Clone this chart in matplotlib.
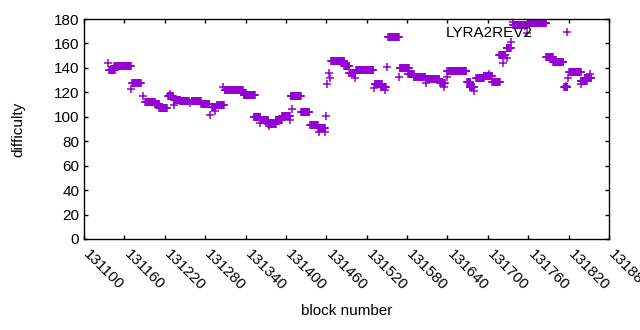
import numpy as np
import matplotlib
matplotlib.use('Agg')
import matplotlib.pyplot as plt
import matplotlib.transforms as mtransforms

# runs of consecutive blocks with the same difficulty: start, end, value
run_start = [131137, 131145, 131172, 131191, 131205, 131212, 131225, 131234, 131243, 131260,
             131274, 131290, 131297, 131309, 131337, 131352, 131362, 131374, 131385, 131394,
             131407, 131423, 131436, 131448, 131467, 131487, 131494, 131504, 131532, 131541,
             131552, 131569, 131582, 131590, 131609, 131629, 131640, 131669, 131673, 131683,
             131694, 131706, 131717, 131728, 131738, 131759, 131787, 131797, 131813, 131821,
             131838, 131844]
run_end = [131146, 131170, 131184, 131205, 131212, 131223, 131232, 131243, 131256, 131274,
           131286, 131295, 131308, 131336, 131354, 131362, 131374, 131385, 131394, 131406,
           131422, 131435, 131447, 131458, 131487, 131494, 131502, 131530, 131543, 131548,
           131568, 131583, 131590, 131607, 131628, 131636, 131668, 131674, 131680, 131694,
           131706, 131718, 131726, 131734, 131758, 131787, 131797, 131812, 131818, 131838,
           131847, 131854]
run_value = [138.0, 141.3, 127.4, 112.3, 110.7, 106.9, 117.3, 114.0, 112.6, 112.8,
             110.3, 108.3, 109.6, 121.6, 117.6, 100.0, 97.4, 94.1, 97.4, 100.4,
             116.7, 104.2, 93.3, 90.5, 145.4, 141.5, 135.6, 138.3, 126.8, 124.0,
             165.0, 139.7, 135.3, 132.8, 131.2, 127.9, 137.6, 128.7, 124.0, 131.7,
             133.4, 128.7, 150.3, 156.0, 175.0, 176.5, 149.2, 145.1, 124.4, 136.4,
             129.3, 132.0]

# isolated blocks
single_block = [131135, 131170, 131188, 131228, 131233, 131257, 131287, 131294, 131307, 131361,
                131375, 131382, 131406, 131409, 131449, 131458, 131459, 131461, 131464, 131465,
                131502, 131531, 131547, 131550, 131568, 131608, 131635, 131639, 131680, 131702,
                131723, 131728, 131734, 131737, 131758, 131816, 131817, 131819, 131838, 131852]
single_value = [143.7, 122.5, 117.3, 118.4, 109.6, 111.0, 101.5, 104.7, 124.6, 94.6,
                92.5, 94.6, 97.4, 106.1, 87.8, 87.8, 100.6, 126.6, 135.6, 131.5,
                131.5, 123.3, 122.0, 140.5, 132.3, 127.4, 124.6, 132.3, 121.1, 135.0,
                143.7, 148.4, 161.5, 177.5, 168.3, 125.4, 169.5, 131.5, 126.8, 134.8]

blocks = list(single_block)
values = list(single_value)
for s, e, v in zip(run_start, run_end, run_value):
    for b in range(s, e + 1):
        blocks.append(b)
        values.append(v)

plt.rcParams['font.family'] = ['Liberation Sans', 'DejaVu Sans']
plt.rcParams['font.size'] = 11

fig = plt.figure(figsize=(6.4, 3.3), dpi=100)
ax = fig.add_axes([0.13125, 0.2758, 0.8203, 0.6666])
ax.plot(blocks, values, linestyle='none', marker='+', markersize=5.5,
        markeredgewidth=1.1, color='#9400d3')

ax.set_xlim(131100, 131880)
ax.set_ylim(0, 180)
ax.set_xticks(np.arange(131100, 131881, 60))
ax.set_yticks(np.arange(0, 181, 20))
ax.tick_params(direction='in', length=3, width=1, top=True, right=True,
               labelsize=11, colors='black')
ax.tick_params(axis='x', pad=6)
shift = mtransforms.ScaledTranslation(7 / 100, 0, fig.dpi_scale_trans)
for lab in ax.get_xticklabels():
    lab.set_rotation(-45)
    lab.set_ha('left')
    lab.set_va('top')
    lab.set_rotation_mode('anchor')
    lab.set_transform(lab.get_transform() + shift)
for sp in ax.spines.values():
    sp.set_linewidth(1)
    sp.set_color('black')

ax.text(0.855, 0.935, 'LYRA2REV2', transform=ax.transAxes, ha='right', va='center',
        fontsize=11)
ax.set_xlabel('block number', fontsize=11, labelpad=8)
ax.set_ylabel('difficulty', fontsize=11, labelpad=20)

fig.savefig('out.png', dpi=100)
